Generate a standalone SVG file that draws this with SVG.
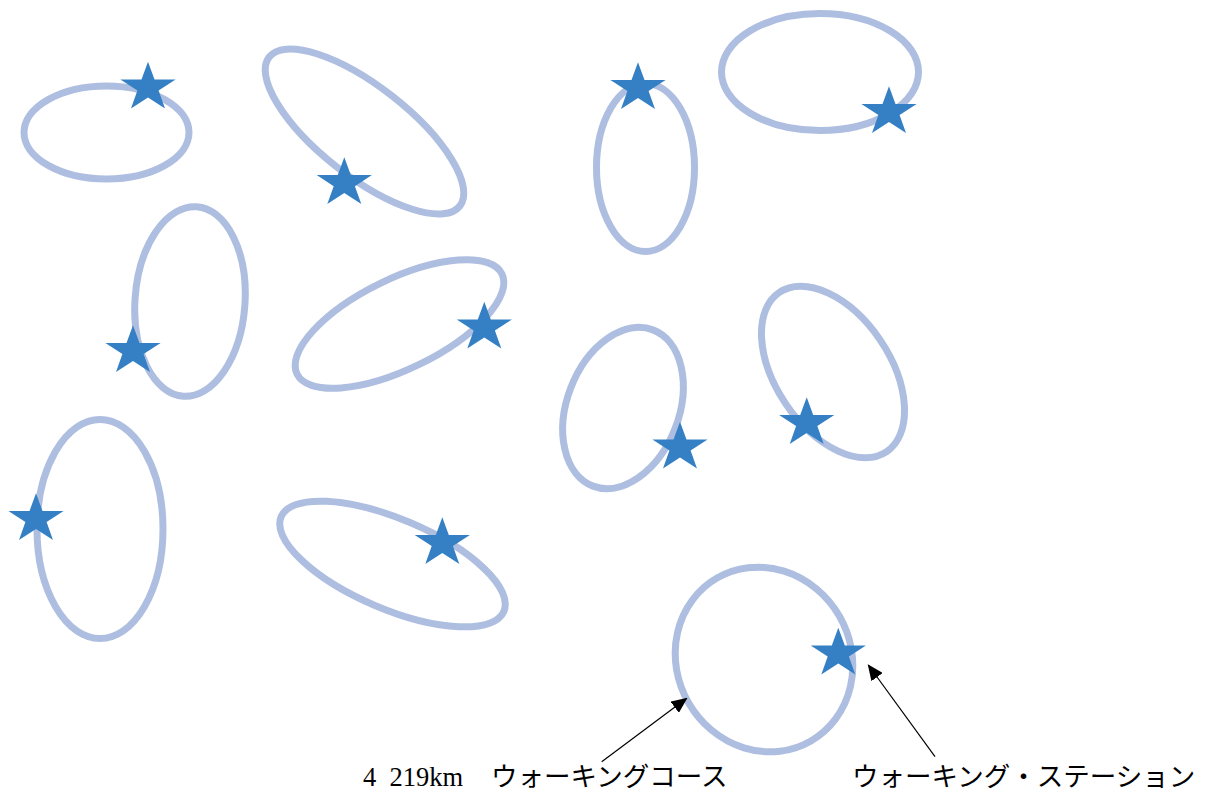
<svg xmlns="http://www.w3.org/2000/svg" width="1205" height="794" viewBox="0 0 1205 794">
<style>
.course{fill:none;stroke:#AEBEE0;stroke-width:7}
.star{fill:#3580C4}
.lbl{font-family:"Noto Sans CJK JP","Noto Sans",sans-serif;font-size:26.5px;fill:#000}
.num{font-family:"Liberation Serif",serif;font-size:26.5px;fill:#000}
.conn{stroke:#000;stroke-width:1.2;fill:none}
</style>
<defs>
<path id="st" d="M0,-25.8 L6.5,-8 L27.6,-8 L10.6,3.1 L17,20.9 L0,9.9 L-17,20.9 L-10.6,3.1 L-27.6,-8 L-6.5,-8 Z"/>
<marker id="ah" markerUnits="userSpaceOnUse" markerWidth="16" markerHeight="14" refX="15" refY="7" orient="auto">
<path d="M0,0 L16,7 L0,14 Z" fill="#000"/>
</marker>
</defs>
<g id="course1"><ellipse class="course" cx="106.5" cy="132.5" rx="82.5" ry="46.5"/><use href="#st" class="star" x="148" y="87.5"/></g>
<g id="course2"><ellipse class="course" cx="0" cy="0" rx="121" ry="45" transform="translate(364.5,131.5) rotate(38)"/><use href="#st" class="star" x="344.3" y="183.1"/></g>
<g id="course3"><ellipse class="course" cx="0" cy="0" rx="55" ry="95" transform="translate(190,301.5) rotate(4)"/><use href="#st" class="star" x="133" y="351"/></g>
<g id="course4"><ellipse class="course" cx="0" cy="0" rx="114" ry="45" transform="translate(399.5,324) rotate(-26)"/><use href="#st" class="star" x="484.3" y="327.5"/></g>
<g id="course5"><ellipse class="course" cx="100" cy="529" rx="63" ry="109.5"/><use href="#st" class="star" x="36" y="519"/></g>
<g id="course6"><ellipse class="course" cx="0" cy="0" rx="121" ry="45" transform="translate(392.5,564) rotate(23)"/><use href="#st" class="star" x="442.3" y="543"/></g>
<g id="course7"><ellipse class="course" cx="645.5" cy="167.5" rx="49" ry="84"/><use href="#st" class="star" x="638" y="88"/></g>
<g id="course8"><ellipse class="course" cx="820" cy="72" rx="98.5" ry="58.5"/><use href="#st" class="star" x="889" y="112"/></g>
<g id="course9"><ellipse class="course" cx="0" cy="0" rx="56" ry="83.7" transform="translate(623,408) rotate(21)"/><use href="#st" class="star" x="680" y="447.5"/></g>
<g id="course10"><ellipse class="course" cx="0" cy="0" rx="57" ry="96" transform="translate(833,372) rotate(-34)"/><use href="#st" class="star" x="806.7" y="423"/></g>
<g id="course11"><ellipse class="course" cx="0" cy="0" rx="87" ry="94" transform="translate(764,659.5) rotate(-30)"/><use href="#st" class="star" x="838.3" y="653.5"/></g>
<g id="connectors">
<line class="conn" x1="601.7" y1="761.7" x2="686.7" y2="698.3" marker-end="url(#ah)"/>
<line class="conn" x1="935" y1="756.7" x2="868.3" y2="665" marker-end="url(#ah)"/>
</g>
<g id="labels">
<text class="num" x="363" y="786" xml:space="preserve">4  219km</text>
<text class="lbl" x="491" y="786">ウォーキングコース</text>
<text class="lbl" x="852" y="786">ウォーキング・ステーション</text>
</g>
</svg>
